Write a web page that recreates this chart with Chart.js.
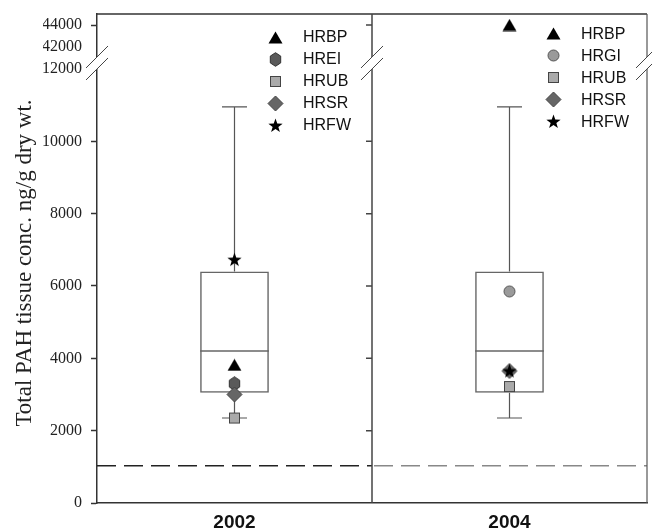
<!DOCTYPE html>
<html><head><meta charset="utf-8">
<script src="https://cdn.jsdelivr.net/npm/chart.js@4"></script>
<style>html,body{margin:0;padding:0;background:#fff}</style>
</head><body>
<canvas id="c" width="652" height="532" style="display:block;width:652px;height:532px"></canvas>
<script>
// ---- data ----
const years = ['2002', '2004'];
const boxMin = [2350, 2350];
const boxQ1 = [3050, 3050];
const boxMedian = [4200, 4200];
const boxQ3 = [6400, 6400];
const boxMax = [10950, 10950];
const hrbp = [3820, 44000];
const hrei = [3300, null];
const hrgi = [null, 5850];
const hrub = [2350, 3220];
const hrsr = [3000, 3650];
const hrfw = [6730, 3650];
const referenceLine = [1030, 1030];
const lowerTicks = [0, 2000, 4000, 6000, 8000, 10000, 12000];
const upperTicks = [42000, 44000];
const breakValue = 12000;
const legend2002 = ['HRBP', 'HREI', 'HRUB', 'HRSR', 'HRFW'];
const legend2004 = ['HRBP', 'HRGI', 'HRUB', 'HRSR', 'HRFW'];
const yTitle = 'Total PAH tissue conc. ng/g dry wt.';

// ---- marker images ----
function mk(w, h, draw) { const c = document.createElement('canvas'); c.width = w; c.height = h; draw(c.getContext('2d'), w, h); return c; }
const M = {
  triangle: mk(15, 13, (g, w, h) => { g.beginPath(); g.moveTo(w / 2, 0.5); g.lineTo(w - 0.5, h - 0.5); g.lineTo(0.5, h - 0.5); g.closePath(); g.fillStyle = '#000'; g.fill(); }),
  hexagon: mk(13, 15, (g) => { g.beginPath(); for (let k = 0; k < 6; k++) { const a = (-90 + 60 * k) * Math.PI / 180; const px = 6.5 + 6 * Math.cos(a), py = 7.5 + 6.8 * Math.sin(a); k ? g.lineTo(px, py) : g.moveTo(px, py); } g.closePath(); g.fillStyle = '#5a5a5a'; g.fill(); g.strokeStyle = '#333'; g.lineWidth = 1; g.stroke(); }),
  square: mk(13, 13, (g) => { g.fillStyle = '#aaa'; g.fillRect(1.5, 1.5, 10, 10); g.strokeStyle = '#444'; g.lineWidth = 1; g.strokeRect(1.5, 1.5, 10, 10); }),
  diamond: mk(17, 17, (g) => { g.beginPath(); g.moveTo(8.5, 1); g.lineTo(16, 8.5); g.lineTo(8.5, 16); g.lineTo(1, 8.5); g.closePath(); g.fillStyle = '#666'; g.fill(); g.strokeStyle = '#444'; g.lineWidth = 1; g.stroke(); }),
  star: mk(15, 15, (g) => { g.beginPath(); for (let k = 0; k < 10; k++) { const a = (-90 + 36 * k) * Math.PI / 180; const r = k % 2 ? 3 : 7.5; const px = 7.5 + r * Math.cos(a), py = 8 + r * Math.sin(a); k ? g.lineTo(px, py) : g.moveTo(px, py); } g.closePath(); g.fillStyle = '#000'; g.fill(); }),
  circle: mk(13, 13, (g) => { g.beginPath(); g.arc(6.5, 6.5, 5.5, 0, Math.PI * 2); g.fillStyle = '#9a9a9a'; g.fill(); g.strokeStyle = '#555'; g.lineWidth = 1; g.stroke(); })
};
const legendStyles2002 = [M.triangle, M.hexagon, M.square, M.diamond, M.star];
const legendStyles2004 = [M.triangle, M.circle, M.square, M.diamond, M.star];

const series = [
  { label: 'HRBP', data: hrbp, style: M.triangle, order: 2 },
  { label: 'HREI', data: hrei, style: M.hexagon, order: 4 },
  { label: 'HRGI', data: hrgi, style: M.circle, order: 2 },
  { label: 'HRUB', data: hrub, style: M.square, order: 2 },
  { label: 'HRSR', data: hrsr, style: M.diamond, order: 3 },
  { label: 'HRFW', data: hrfw, style: M.star, order: 1 }
];
const lowerPart = a => a.map(v => (v != null && v <= breakValue) ? v : null);
const upperPart = a => a.map(v => (v != null && v > breakValue) ? v : null);

const datasets = [{
  type: 'bar', label: 'box', data: boxQ1.map((q, i) => [q, boxQ3[i]]), yAxisID: 'y',
  backgroundColor: 'rgba(0,0,0,0)', borderColor: '#666', borderWidth: 1.5, borderSkipped: false,
  barPercentage: 0.25, categoryPercentage: 1, order: 20
}];
series.forEach(s => {
  const lo = lowerPart(s.data), up = upperPart(s.data);
  if (lo.some(v => v != null)) datasets.push({ type: 'line', label: s.label, data: lo, yAxisID: 'y', showLine: false, pointStyle: s.style, order: s.order, clip: false });
  if (up.some(v => v != null)) datasets.push({ type: 'line', label: s.label, data: up, yAxisID: 'yTop', showLine: false, pointStyle: s.style, order: s.order, clip: false });
});

function dividerX(chart) { const xs = chart.scales.x; return (xs.getPixelForValue(0) + xs.getPixelForValue(1)) / 2; }

const boxPlugin = {
  id: 'boxParts',
  beforeDatasetsDraw(chart) {
    const ctx = chart.ctx, xs = chart.scales.x, ys = chart.scales.y, a = chart.chartArea;
    const meta = chart.getDatasetMeta(0);
    const dx = dividerX(chart);
    ctx.save();
    const yr = ys.getPixelForValue(referenceLine[0]);
    ctx.lineWidth = 1.5; ctx.setLineDash([19, 8]);
    ctx.strokeStyle = '#222'; ctx.beginPath(); ctx.moveTo(a.left, yr); ctx.lineTo(dx, yr); ctx.stroke();
    const yr2 = ys.getPixelForValue(referenceLine[1]);
    ctx.strokeStyle = '#888'; ctx.beginPath(); ctx.moveTo(dx + 2, yr2); ctx.lineTo(a.right, yr2); ctx.stroke();
    ctx.setLineDash([]);
    ctx.strokeStyle = '#555'; ctx.lineWidth = 1.2;
    years.forEach((yv, i) => {
      const x = xs.getPixelForValue(i);
      const capHalf = 12.5;
      ctx.beginPath();
      ctx.moveTo(x, ys.getPixelForValue(boxQ3[i])); ctx.lineTo(x, ys.getPixelForValue(boxMax[i]));
      ctx.moveTo(x - capHalf, ys.getPixelForValue(boxMax[i])); ctx.lineTo(x + capHalf, ys.getPixelForValue(boxMax[i]));
      ctx.moveTo(x, ys.getPixelForValue(boxQ1[i])); ctx.lineTo(x, ys.getPixelForValue(boxMin[i]));
      ctx.moveTo(x - capHalf, ys.getPixelForValue(boxMin[i])); ctx.lineTo(x + capHalf, ys.getPixelForValue(boxMin[i]));
      ctx.stroke();
      const el = meta.data[i];
      const w = el.width;
      ctx.save(); ctx.strokeStyle = '#666'; ctx.lineWidth = 1.5;
      ctx.beginPath(); ctx.moveTo(el.x - w / 2, ys.getPixelForValue(boxMedian[i])); ctx.lineTo(el.x + w / 2, ys.getPixelForValue(boxMedian[i])); ctx.stroke();
      ctx.restore();
    });
    ctx.restore();
  },
  afterDraw(chart) {
    const ctx = chart.ctx, a = chart.chartArea, ys = chart.scales.y, yt = chart.scales.yTop;
    const dx = dividerX(chart);
    ctx.save();
    ctx.strokeStyle = '#333'; ctx.lineWidth = 1.5;
    ctx.beginPath(); ctx.moveTo(a.left, a.top); ctx.lineTo(a.right, a.top); ctx.stroke();
    ctx.strokeStyle = '#555'; ctx.lineWidth = 1.2;
    ctx.beginPath(); ctx.moveTo(a.right, a.top); ctx.lineTo(a.right, a.bottom); ctx.stroke();
    ctx.strokeStyle = '#444'; ctx.lineWidth = 1.5;
    ctx.beginPath(); ctx.moveTo(dx, a.top); ctx.lineTo(dx, a.bottom); ctx.stroke();
    ctx.beginPath();
    lowerTicks.forEach(v => { if (v > 0 && v < breakValue) { const y = ys.getPixelForValue(v); ctx.moveTo(dx - 6, y); ctx.lineTo(dx, y); } });
    upperTicks.forEach(v => { if (v === upperTicks[upperTicks.length - 1]) { const y = yt.getPixelForValue(v); ctx.moveTo(dx - 6, y); ctx.lineTo(dx, y); } });
    ctx.stroke();
    const y2 = ys.getPixelForValue(breakValue), y1 = y2 - 12;
    [a.left, dx, a.right].forEach(x => {
      ctx.fillStyle = '#fff';
      ctx.beginPath(); ctx.moveTo(x - 11, y1 + 11); ctx.lineTo(x + 11, y1 - 11); ctx.lineTo(x + 11, y2 - 11); ctx.lineTo(x - 11, y2 + 11); ctx.closePath(); ctx.fill();
      ctx.strokeStyle = '#444'; ctx.lineWidth = 1;
      ctx.beginPath(); ctx.moveTo(x - 11, y1 + 11); ctx.lineTo(x + 11, y1 - 11); ctx.moveTo(x - 11, y2 + 11); ctx.lineTo(x + 11, y2 - 11); ctx.stroke();
    });
    ctx.font = '16px "Liberation Sans", Arial, sans-serif'; ctx.fillStyle = '#111'; ctx.textBaseline = 'middle'; ctx.textAlign = 'left';
    legend2002.forEach((t, k) => { const y = 37 + 22 * k; const im = legendStyles2002[k]; ctx.drawImage(im, Math.round(275 - im.width / 2), Math.round(y - im.height / 2)); ctx.fillText(t, 303, y + 1); });
    legend2004.forEach((t, k) => { const y = 33.5 + 22 * k; const im = legendStyles2004[k]; ctx.drawImage(im, Math.round(553 - im.width / 2), Math.round(y - im.height / 2)); ctx.fillText(t, 581, y + 1); });
    ctx.save();
    ctx.translate(25, 263); ctx.rotate(-Math.PI / 2);
    ctx.font = '23px "Liberation Serif", "Times New Roman", serif'; ctx.fillStyle = '#222'; ctx.textAlign = 'center'; ctx.textBaseline = 'middle';
    ctx.fillText(yTitle, 0, 0);
    ctx.restore();
    ctx.restore();
  }
};

function fitY(s) { s.width = 54; s.paddingTop = 0; s.paddingBottom = 0; }
const tickFont = { family: '"Liberation Serif", "Times New Roman", serif', size: 16 };
new Chart(document.getElementById('c'), {
  type: 'bar',
  data: { labels: years, datasets },
  plugins: [boxPlugin],
  options: {
    responsive: false, animation: false, devicePixelRatio: 1,
    layout: { padding: { left: 43, right: 5, top: 14, bottom: 0 } },
    plugins: { legend: { display: false }, tooltip: { enabled: false } },
    scales: {
      x: {
        type: 'category', offset: true,
        grid: { display: false, drawTicks: false },
        border: { display: true, color: '#333', width: 1.5 },
        ticks: { font: { family: '"Liberation Sans", Arial, sans-serif', size: 19, weight: 'bold' }, color: '#111', padding: 8 },
        afterFit(s) { s.height = 29; s.paddingLeft = 0; s.paddingRight = 0; }
      },
      y: {
        type: 'linear', position: 'left', stack: 'ys', stackWeight: 445,
        min: 0, max: 12304,
        afterBuildTicks(s) { s.ticks = lowerTicks.map(v => ({ value: v })); },
        grid: { drawOnChartArea: false, tickLength: 6, tickWidth: 1.5, tickColor: c => (c.tick && c.tick.value === breakValue) ? 'rgba(0,0,0,0)' : '#333' },
        border: { display: true, color: '#333', width: 1.5 },
        ticks: { font: tickFont, color: '#222', padding: 9, autoSkip: false, callback: v => String(v) },
        afterFit: fitY
      },
      yTop: {
        type: 'linear', position: 'left', stack: 'ys', stackWeight: 44,
        min: 41000, max: 45000,
        afterBuildTicks(s) { s.ticks = upperTicks.map(v => ({ value: v })); },
        grid: { drawOnChartArea: false, tickLength: 6, tickWidth: 1.5, tickColor: c => (c.tick && c.tick.value === upperTicks[0]) ? 'rgba(0,0,0,0)' : '#333' },
        border: { display: true, color: '#333', width: 1.5 },
        ticks: { font: tickFont, color: '#222', padding: 9, autoSkip: false, callback: v => String(v) },
        afterFit: fitY
      }
    }
  }
});
</script>
</body></html>
